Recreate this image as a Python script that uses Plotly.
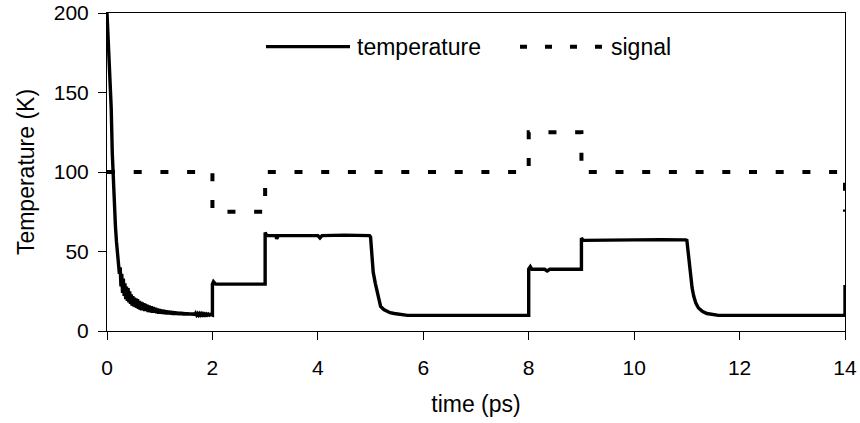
import plotly.graph_objects as go

# ---- data ----
time_temp = [0, 0.02, 0.04, 0.06, 0.08, 0.10, 0.12, 0.14, 0.16, 0.18, 0.20,
             0.22, 0.235, 0.25, 0.265, 0.28, 0.295, 0.31, 0.325, 0.34, 0.355,
             0.37, 0.385, 0.40, 0.415, 0.43, 0.445, 0.46, 0.475, 0.49, 0.505,
             0.52, 0.535, 0.55, 0.565, 0.58, 0.595, 0.61, 0.625, 0.64, 0.655,
             0.67, 0.685, 0.70, 0.715, 0.73, 0.745,
             0.76, 0.78, 0.80, 0.82, 0.84, 0.86, 0.88, 0.90, 0.92, 0.94,
             0.96, 0.98, 1.00, 1.02, 1.04, 1.06, 1.08, 1.10, 1.12, 1.14,
             1.16, 1.18, 1.20, 1.22, 1.24, 1.26, 1.28, 1.30, 1.32, 1.34,
             1.36, 1.38, 1.40, 1.42, 1.44, 1.46, 1.48, 1.50, 1.52, 1.54,
             1.56, 1.58, 1.60, 1.62, 1.64, 1.66, 1.68, 1.70, 1.72, 1.74,
             1.76, 1.78, 1.80, 1.82, 1.84, 1.86, 1.88, 1.90, 1.92, 1.94,
             1.96, 1.98, 2.0,
             2.0, 2.02, 2.06, 2.5, 3.0,
             3.0, 3.03, 3.2, 3.22, 3.25, 4.0, 4.04, 4.08, 4.5, 4.98,
             5.0, 5.03, 5.05, 5.09, 5.12, 5.15, 5.19, 5.25, 5.30, 5.37,
             5.45, 5.55, 5.62, 5.70, 6.0, 8.0,
             8.0, 8.03, 8.06, 8.3, 8.35, 8.4, 9.0,
             9.0, 9.03, 9.5, 10.0, 10.5, 10.98,
             11.0, 11.04, 11.07, 11.10, 11.13, 11.17, 11.22, 11.30, 11.38, 11.5,
             11.6, 14.0, 14.0]
temperature = [200, 186, 172, 163, 140, 112, 92, 78, 66, 56, 48,
               44, 36, 40, 28, 36, 24, 33, 22, 30, 20,
               28, 19, 27, 18, 25, 17, 23, 16, 22, 15.5,
               21, 15, 20.5, 14.5, 20, 14, 19, 13.5, 18.5, 13,
               18, 13, 17.5, 12.5, 17, 12.5,
               16.5, 12, 16, 11.8, 15.5, 11.5, 15, 11.5, 14.5, 11.2,
               14, 11, 13.8, 11, 13.5, 10.8, 13.2, 10.6, 13, 10.5,
               12.8, 10.5, 12.6, 10.4, 12.4, 10.3, 12.2, 10.2, 12, 10.2,
               11.9, 10.1, 11.8, 10.1, 11.7, 10, 11.6, 10, 11.5, 10,
               11.4, 10, 11.3, 10, 11.2, 10, 11.1, 10, 11, 10,
               11, 10, 10.9, 10, 10.8, 10, 10.7, 10, 10.6, 10,
               10.5, 10, 10,
               29.5, 31, 29.5, 29.5, 29.5,
               62, 60, 60, 58, 60, 60, 58.5, 60, 60.3, 60,
               59, 45, 37, 30, 25, 20, 15.5, 13.5, 12.5, 11.5,
               11, 10.5, 10.2, 9.8, 9.8, 9.8,
               39, 40.5, 38.8, 38.8, 37.8, 38.8, 38.8,
               58.5, 57, 57.3, 57.5, 57.5, 57.3,
               57, 45, 34, 27, 22, 17.5, 14.5, 12.3, 11, 10.2,
               9.8, 9.8, 29]

time_signal = [0, 2, 2, 3, 3, 8, 8, 9, 9, 14, 14]
signal = [100, 100, 75, 75, 100, 100, 125, 125, 100, 100, 75]

x_ticks = [0, 2, 4, 6, 8, 10, 12, 14]
y_ticks = [0, 50, 100, 150, 200]

FONT = "Liberation Sans, Arial, sans-serif"
DASH = "8px,18.7px"
TICK_SIZE = 21
TITLE_SIZE = 23

fig = go.Figure()
fig.add_trace(go.Scatter(x=time_signal, y=signal, mode="lines", name="signal",
                         line=dict(color="black", width=4, dash=DASH),
                         showlegend=False))
fig.add_trace(go.Scatter(x=time_temp, y=temperature, mode="lines", name="temperature",
                         line=dict(color="black", width=3.4),
                         showlegend=False))

# legend drawn inside the plot area
leg_y = 0.894
fig.add_shape(type="line", xref="paper", yref="paper", x0=0.2154, x1=0.3293,
              y0=leg_y, y1=leg_y, line=dict(color="black", width=3.2))
fig.add_shape(type="line", xref="paper", yref="paper", x0=0.5596, x1=0.672,
              y0=leg_y, y1=leg_y, line=dict(color="black", width=4, dash="7px,18px"))
fig.add_annotation(xref="paper", yref="paper", x=0.3374, y=leg_y, text="temperature",
                   showarrow=False, xanchor="left", yanchor="middle", borderpad=0,
                   font=dict(family=FONT, size=TITLE_SIZE, color="black"))
fig.add_annotation(xref="paper", yref="paper", x=0.6815, y=leg_y, text="signal",
                   showarrow=False, xanchor="left", yanchor="middle", borderpad=0,
                   font=dict(family=FONT, size=TITLE_SIZE, color="black"))

fig.update_layout(
    width=860, height=423,
    margin=dict(l=107, r=15, t=13, b=92, autoexpand=False),
    plot_bgcolor="white", paper_bgcolor="white",
    font=dict(family=FONT, size=TICK_SIZE, color="black"),
    showlegend=False,
    xaxis=dict(range=[0, 14], tickvals=x_ticks, ticks="outside", ticklen=8,
               tickwidth=1, tickcolor="black", showline=True, linecolor="black",
               linewidth=1, mirror=True, showgrid=False, zeroline=False,
               ticklabelstandoff=10, automargin=False,
               title=dict(text="time (ps)", font=dict(size=TITLE_SIZE), standoff=17),
               tickfont=dict(size=TICK_SIZE)),
    yaxis=dict(range=[0, 200], tickvals=y_ticks, ticks="outside", ticklen=8,
               tickwidth=1, tickcolor="black", showline=True, linecolor="black",
               linewidth=1, mirror=True, showgrid=False, zeroline=False,
               ticklabelstandoff=5, automargin=False,
               title=dict(text="Temperature (K)", font=dict(size=TITLE_SIZE), standoff=12),
               tickfont=dict(size=TICK_SIZE)),
)

fig.write_html("out.html")
